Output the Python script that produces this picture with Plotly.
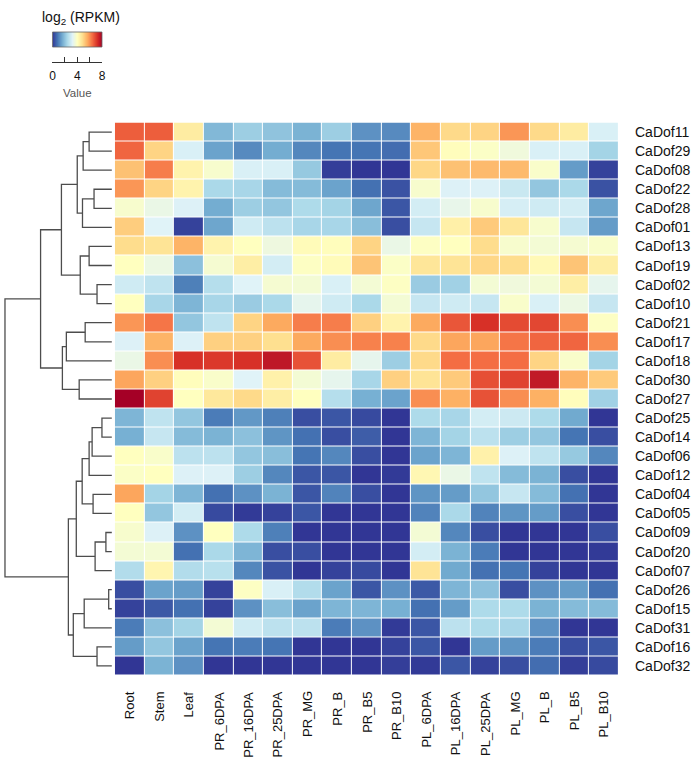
import plotly.graph_objects as go

# ---------------- data ----------------
samples = ["Root", "Stem", "Leaf", "PR_6DPA", "PR_16DPA", "PR_25DPA", "PR_MG", "PR_B",
           "PR_B5", "PR_B10", "PL_6DPA", "PL_16DPA", "PL_25DPA", "PL_MG", "PL_B", "PL_B5", "PL_B10"]

genes = ["CaDof11", "CaDof29", "CaDof08", "CaDof22", "CaDof28", "CaDof01", "CaDof13", "CaDof19",
         "CaDof02", "CaDof10", "CaDof21", "CaDof17", "CaDof18", "CaDof30", "CaDof27", "CaDof25",
         "CaDof14", "CaDof06", "CaDof12", "CaDof04", "CaDof05", "CaDof09", "CaDof20", "CaDof07",
         "CaDof26", "CaDof15", "CaDof31", "CaDof16", "CaDof32"]

# log2(RPKM) per gene, in the order of `samples`
CaDof11 = [6.6, 6.6, 4.5, 1.8, 2.2, 2.0, 1.7, 2.2, 1.2, 1.1, 5.5, 4.9, 5.0, 5.9, 4.9, 4.5, 3.1]
CaDof29 = [6.5, 5.0, 3.1, 1.45, 1.1, 1.6, 1.05, 0.8, 0.8, 0.7, 5.2, 4.05, 3.9, 3.6, 3.1, 3.1, 2.3]
CaDof08 = [5.3, 6.2, 4.3, 3.8, 3.1, 3.1, 2.1, 0.1, 0.0, 0.0, 4.95, 5.3, 5.4, 5.4, 3.85, 1.35, 0.15]
CaDof22 = [5.9, 5.0, 4.3, 2.4, 2.35, 1.85, 1.85, 1.45, 0.75, 0.35, 3.8, 3.15, 3.15, 2.85, 2.05, 2.4, 0.35]
CaDof28 = [3.8, 3.45, 3.15, 1.6, 2.2, 2.05, 2.45, 2.3, 1.5, 0.4, 3.0, 3.4, 3.8, 3.05, 2.95, 3.0, 1.5]
CaDof01 = [5.1, 3.2, 0.15, 1.5, 2.95, 2.65, 2.35, 2.35, 1.9, 0.3, 2.8, 4.4, 5.15, 4.65, 3.8, 2.8, 1.35]
CaDof13 = [4.85, 4.7, 5.5, 4.3, 4.0, 3.55, 4.1, 4.05, 5.0, 3.45, 3.95, 4.0, 4.85, 3.8, 3.7, 3.75, 3.85]
CaDof19 = [4.0, 3.5, 1.95, 3.75, 4.45, 3.0, 3.95, 4.1, 5.25, 3.9, 4.65, 4.7, 4.95, 4.85, 4.15, 5.25, 4.45]
CaDof02 = [2.95, 2.7, 0.95, 2.55, 3.2, 3.75, 3.7, 3.1, 3.7, 3.95, 2.15, 2.25, 3.7, 3.6, 3.7, 4.45, 3.35]
CaDof10 = [4.0, 2.35, 1.75, 2.35, 2.15, 2.4, 3.35, 2.95, 2.4, 3.7, 2.8, 2.95, 2.8, 3.85, 3.1, 3.5, 2.8]
CaDof21 = [5.9, 6.3, 2.05, 2.7, 5.0, 5.65, 6.2, 6.2, 5.05, 4.3, 5.65, 6.7, 7.2, 6.85, 6.9, 6.0, 3.95]
CaDof17 = [3.15, 5.5, 3.15, 5.05, 5.05, 4.8, 5.65, 6.0, 6.15, 6.15, 4.9, 5.7, 5.7, 6.3, 6.5, 6.5, 6.0]
CaDof18 = [3.45, 6.0, 7.2, 7.1, 7.2, 7.6, 6.75, 4.5, 3.35, 2.2, 4.9, 6.4, 6.4, 6.4, 5.0, 3.85, 2.3]
CaDof30 = [5.7, 5.05, 4.05, 3.85, 3.2, 4.35, 3.7, 3.35, 2.35, 5.05, 4.7, 5.15, 6.8, 6.95, 7.55, 5.5, 5.15]
CaDof27 = [8.0, 6.95, 4.0, 4.6, 4.9, 4.45, 4.0, 2.55, 1.65, 1.45, 6.0, 5.55, 6.75, 6.0, 5.55, 4.05, 2.25]
CaDof25 = [1.75, 2.7, 2.05, 0.9, 1.3, 0.95, 0.3, 0.4, 0.25, 0.0, 2.45, 2.35, 3.0, 2.9, 2.45, 1.55, 0.0]
CaDof14 = [1.65, 2.8, 1.85, 1.7, 1.95, 1.25, 0.75, 0.3, 0.5, 0.0, 1.75, 2.3, 2.65, 2.2, 2.05, 0.8, 0.3]
CaDof06 = [4.0, 3.85, 2.65, 2.65, 2.05, 1.9, 0.8, 1.05, 0.3, 0.0, 1.45, 1.75, 4.35, 3.15, 2.7, 2.1, 1.05]
CaDof12 = [3.9, 4.0, 3.15, 3.15, 2.2, 1.05, 0.4, 0.4, 0.0, 0.05, 4.2, 3.45, 2.7, 1.85, 1.7, 0.3, 0.0]
CaDof04 = [5.7, 2.3, 1.75, 0.75, 1.2, 1.7, 0.4, 1.0, 0.3, 0.0, 1.25, 1.35, 2.05, 2.8, 1.85, 0.75, 0.0]
CaDof05 = [4.0, 2.05, 3.0, 0.25, 0.05, 0.15, 0.4, 0.0, 0.0, 0.0, 1.0, 2.4, 1.0, 1.25, 1.35, 0.3, 0.0]
CaDof09 = [3.8, 3.15, 1.2, 4.0, 2.45, 0.95, 0.0, 0.0, 0.0, 0.0, 3.7, 1.05, 0.3, 0.0, 0.0, 0.0, 0.3]
CaDof20 = [3.7, 3.7, 0.75, 2.4, 1.75, 0.3, 0.3, 0.0, 0.0, 0.0, 3.0, 1.7, 0.9, 0.0, 0.0, 0.0, 0.05]
CaDof07 = [2.5, 4.25, 2.5, 2.6, 1.05, 0.35, 0.0, 0.15, 0.25, 0.0, 4.7, 1.55, 0.75, 0.8, 0.15, 0.0, 0.0]
CaDof26 = [0.3, 1.45, 1.35, 0.15, 3.95, 3.1, 2.5, 1.45, 0.4, 1.2, 0.45, 1.75, 1.95, 0.3, 1.2, 1.35, 0.75]
CaDof15 = [0.15, 0.45, 0.75, 0.15, 1.2, 1.9, 1.45, 1.75, 1.75, 1.65, 0.75, 1.35, 2.45, 2.45, 1.7, 1.85, 1.85]
CaDof31 = [0.9, 1.95, 2.3, 3.7, 2.95, 2.65, 2.65, 0.9, 1.2, 0.05, 0.4, 2.65, 2.45, 2.35, 1.2, 0.0, 0.0]
CaDof16 = [1.35, 2.05, 1.45, 0.8, 0.9, 0.8, 0.0, 0.0, 0.0, 0.15, 0.4, 0.0, 1.35, 1.25, 0.9, 0.3, 0.4]
CaDof32 = [0.0, 1.7, 1.2, 0.0, 0.0, 0.0, 0.0, 0.0, 0.0, 0.1, 0.05, 0.4, 0.15, 0.3, 0.7, 0.1, 0.25]

# row dendrogram (hierarchical clustering): node m{k} = merge_a[k] + merge_b[k] at height merge_h[k]
merge_a = ["CaDof11", "m0", "CaDof22", "m2", "m1", "CaDof13", "CaDof02", "m5", "m4", "CaDof21",
           "m9", "CaDof30", "m10", "m8", "CaDof25", "m14", "m15", "CaDof04", "m16", "CaDof09",
           "m19", "m18", "CaDof26", "m22", "CaDof16", "m23", "m21", "m13"]
merge_b = ["CaDof29", "CaDof08", "CaDof28", "CaDof01", "m3", "CaDof19", "CaDof10", "m6", "m7", "CaDof17",
           "CaDof18", "CaDof27", "m11", "m12", "CaDof14", "CaDof06", "CaDof12", "CaDof05", "m17", "CaDof20",
           "CaDof07", "m20", "CaDof15", "CaDof31", "CaDof32", "m24", "m25", "m26"]
merge_h = [2.13, 2.69, 1.67, 2.75, 3.24, 2.13, 1.39, 2.96, 4.72, 2.5,
           4.26, 3.06, 4.63, 6.67, 0.93, 1.85, 2.13, 1.76, 2.78, 0.56,
           1.57, 3.33, 0.3, 2.59, 1.39, 3.61, 4.07, 10.0]

legend_min, legend_max = 0, 8
legend_labels = [0, 4, 8]
legend_minor_step = 2

# ---------------- build ----------------
rows = [globals()[g] for g in genes]

palette = ["#313695", "#4575B4", "#74ADD1", "#ABD9E9", "#E0F3F8", "#FFFFBF",
           "#FEE090", "#FDAE61", "#F46D43", "#D73027", "#A50026"]
colorscale = [[i / (len(palette) - 1), c] for i, c in enumerate(palette)]

# dendrogram coordinates
node_y = {g: i for i, g in enumerate(genes)}
node_h = {g: 0.0 for g in genes}
dx, dy = [], []
for k, (a, b, h) in enumerate(zip(merge_a, merge_b, merge_h)):
    ya, yb = node_y[a], node_y[b]
    dx += [node_h[a], h, h, node_h[b], None]
    dy += [ya, ya, yb, yb, None]
    node_y[f"m{k}"] = (ya + yb) / 2
    node_h[f"m{k}"] = h

W, H = 697, 757
def px(x):  # horizontal pixel -> paper
    return x / W
def py(y):  # vertical pixel (from top) -> paper
    return 1 - y / H

heat_l, heat_r, heat_t, heat_b = 113, 622, 122.5, 675.5
dend_right, dend_root = 110, 2
leg_l, leg_r, leg_t, leg_b, leg_axis = 50, 100, 32, 47, 62

FONT = "Liberation Sans, Arial, sans-serif"
TXT = "#111111"

fig = go.Figure()
fig.add_trace(go.Heatmap(
    z=rows, x=list(range(len(samples))), y=list(range(len(genes))),
    colorscale=colorscale, zmin=legend_min, zmax=legend_max, xgap=1, ygap=1,
    showscale=False,
    customdata=[[g] * len(samples) for g in genes],
    hovertemplate="%{customdata} / %{x}: %{z}<extra></extra>",
))

fig.add_trace(go.Scatter(
    x=dx, y=dy, mode="lines", xaxis="x2", yaxis="y",
    line=dict(color="#4d4d4d", width=1.3), hoverinfo="skip",
    showlegend=False, cliponaxis=False,
))

# colour key (gradient strip built from the colour scale range)
nsteps = 200
grad = [legend_min + (legend_max - legend_min) * i / (nsteps - 1) for i in range(nsteps)]
fig.add_trace(go.Heatmap(
    z=[grad], x=grad, y=[0], xaxis="x3", yaxis="y3",
    colorscale=colorscale, zmin=legend_min, zmax=legend_max,
    showscale=False, hoverinfo="skip",
))

root_h = max(merge_h)
axis_off = dict(showgrid=False, zeroline=False, showline=False, fixedrange=True)

annotations = []
for i, s in enumerate(samples):
    annotations.append(dict(
        text=s, x=i, xref="x", y=py(heat_b + 14), yref="paper",
        xanchor="center", yanchor="top", textangle=-90, showarrow=False,
        font=dict(size=13, color=TXT, family=FONT),
    ))
for j, g in enumerate(genes):
    annotations.append(dict(
        text=g, x=px(636), xref="paper", y=j, yref="y",
        xanchor="left", yanchor="middle", showarrow=False,
        font=dict(size=14, color=TXT, family=FONT),
    ))
annotations.append(dict(
    text="log<sub>2</sub> (RPKM)", x=px(79), y=py(18), xref="paper", yref="paper",
    xanchor="center", yanchor="middle", showarrow=False,
    font=dict(size=14, color=TXT, family=FONT),
))
annotations.append(dict(
    text="Value", x=px(75), y=py(93), xref="paper", yref="paper",
    xanchor="center", yanchor="middle", showarrow=False,
    font=dict(size=11.5, color="#555555", family=FONT),
))

fig.update_layout(
    width=W, height=H,
    margin=dict(l=0, r=0, t=0, b=0),
    paper_bgcolor="white", plot_bgcolor="white",
    font=dict(family=FONT, color=TXT),
    xaxis=dict(domain=[px(heat_l), px(heat_r)], range=[-0.5, len(samples) - 0.5],
               showticklabels=False, ticks="", **axis_off),
    yaxis=dict(domain=[py(heat_b), py(heat_t)], range=[len(genes) - 0.5, -0.5],
               showticklabels=False, ticks="", **axis_off),
    xaxis2=dict(domain=[0, px(dend_right)],
                range=[root_h * dend_right / (dend_right - dend_root), 0],
                anchor="y", showticklabels=False, ticks="", **axis_off),
    xaxis3=dict(domain=[px(leg_l), px(leg_r)], range=[legend_min, legend_max],
                anchor="free", position=py(leg_axis),
                tickvals=legend_labels, ticktext=[str(v) for v in legend_labels],
                ticks="inside", ticklen=5, tickwidth=1, tickcolor="#333333",
                minor=dict(dtick=legend_minor_step, ticks="inside", ticklen=5,
                           tickwidth=1, tickcolor="#333333", showgrid=False),
                showline=True, linecolor="#333333", linewidth=1,
                ticklabelstandoff=3,
                tickfont=dict(size=12, color=TXT, family=FONT),
                showgrid=False, zeroline=False, fixedrange=True),
    yaxis3=dict(domain=[py(leg_b), py(leg_t)], range=[-0.5, 0.5], anchor="x3",
                showticklabels=False, ticks="", **axis_off),
    shapes=[dict(type="rect", xref="x3 domain", yref="y3 domain", x0=0, x1=1, y0=0, y1=1,
                 line=dict(color="#666666", width=0.8), fillcolor="rgba(0,0,0,0)")],
    annotations=annotations,
)

# remove the browser's default 8px page margin so the figure sits at the window origin
fig.write_html("out.html", config={"displayModeBar": False},
               post_script="document.body.style.margin='0';")
